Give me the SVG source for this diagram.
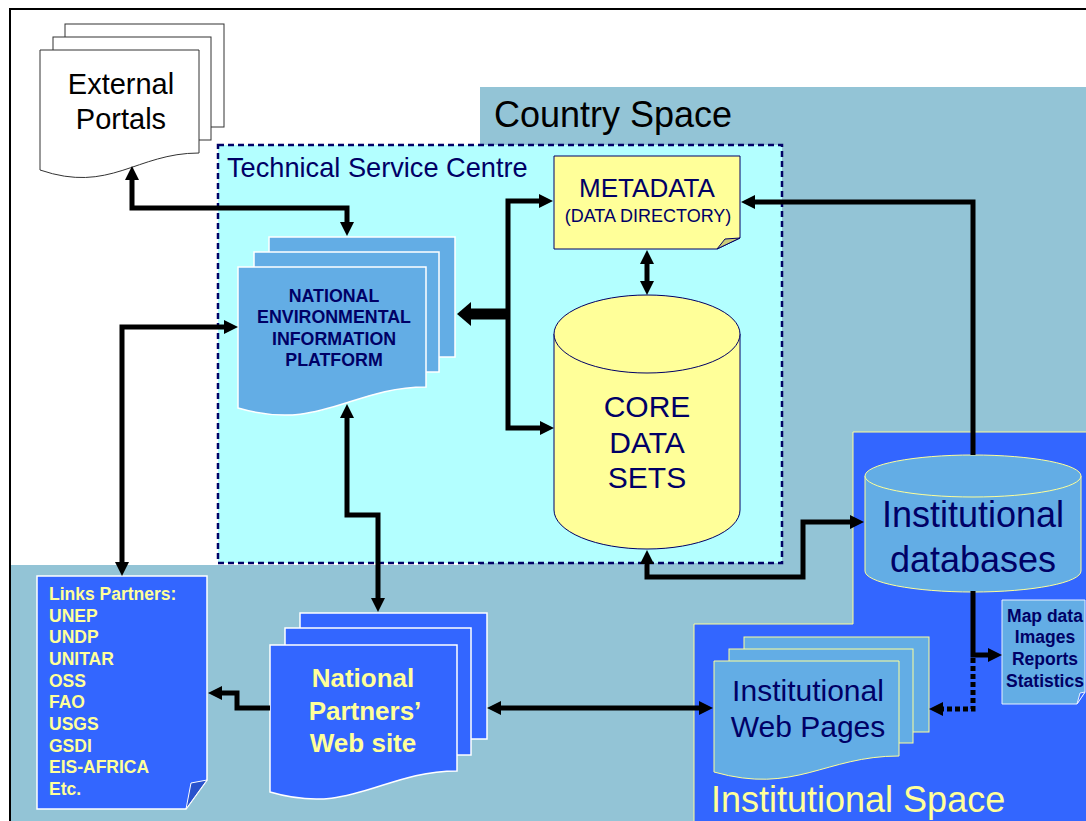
<svg xmlns="http://www.w3.org/2000/svg" width="1086" height="821" viewBox="0 0 1086 821">
<style>
text{font-family:"Liberation Sans",Arial,sans-serif}
.navy{fill:#000066}
.yel{fill:#FFFF99}
.b{font-weight:bold}
.mid{text-anchor:middle}
.conn{fill:none;stroke:#000;stroke-width:5;stroke-linejoin:miter}
.thick{stroke-width:11}
.page-w{fill:#fff;stroke:#333;stroke-width:1}
.page-lb{fill:#63ADE5;stroke:#fff;stroke-width:1.5}
.page-db{fill:#3366FF;stroke:#fff;stroke-width:1.5}
.page-iw{fill:#63ADE5;stroke:#FFFF99;stroke-width:1}
</style>
<defs>
<marker id="ah" markerUnits="userSpaceOnUse" viewBox="0 0 14 14" markerWidth="14" markerHeight="14" refX="3" refY="7" orient="auto-start-reverse"><path d="M0,0 L14,7 L0,14 z" fill="#000"/></marker>
<marker id="ahb" markerUnits="userSpaceOnUse" viewBox="0 0 14 24" markerWidth="14" markerHeight="24" refX="3" refY="12" orient="auto"><path d="M0,0 L14,12 L0,24 z" fill="#000"/></marker>
</defs>
<rect width="1086" height="821" fill="#fff"/>
<g id="country-space">
<path d="M480,87 H1086 V821 H10 V565 H480 Z" fill="#93C4D6"/>
<text x="494" y="127" font-size="36" fill="#000">Country Space</text>
</g>
<g id="institutional-space">
<path d="M853,432 H1090 V825 H694 V624 H853 Z" fill="#3366FF" stroke="#FFFF99" stroke-width="1"/>
<text x="711" y="812" font-size="36" class="yel">Institutional Space</text>
</g>
<g id="technical-service-centre">
<rect x="218" y="145" width="564" height="418" fill="#B3FFFF" stroke="#000066" stroke-width="2.5" stroke-dasharray="6,4"/>
<text x="227" y="177" font-size="27.2" class="navy">Technical Service Centre</text>
</g>
<rect x="10" y="9" width="1090" height="830" fill="none" stroke="#000" stroke-width="2"/>
<g id="external-portals">
<rect x="65" y="24" width="159" height="103" class="page-w"/>
<rect x="53" y="37" width="158" height="103" class="page-w"/>
<path d="M40,50 H199 V153 C136,153 110,194 40,170 Z" class="page-w"/>
<text x="121" y="94" font-size="29" class="mid">External</text>
<text x="121" y="129" font-size="29" class="mid">Portals</text>
</g>
<g id="neip">
<rect x="269" y="237" width="186" height="120" class="page-lb"/>
<rect x="254" y="252" width="185" height="120" class="page-lb"/>
<path d="M238,267 H426 V387 C351,387 321,432 238,408 Z" class="page-lb"/>
<text x="334" y="302" font-size="17.8" class="navy b mid">NATIONAL</text>
<text x="334" y="323" font-size="17.8" class="navy b mid">ENVIRONMENTAL</text>
<text x="334" y="345" font-size="17.8" class="navy b mid">INFORMATION</text>
<text x="334" y="366" font-size="17.8" class="navy b mid">PLATFORM</text>
</g>
<g id="metadata">
<path d="M554,156 H740 V238 L717,249 H554 Z" fill="#FFFF99" stroke="#000066" stroke-width="1"/>
<path d="M717,249 L725,239 L740,238 Z" fill="#CCCC77" stroke="#000066" stroke-width="1"/>
<text x="647" y="197" font-size="26" class="navy mid">METADATA</text>
<text x="648" y="222" font-size="18" class="navy mid">(DATA DIRECTORY)</text>
</g>
<g id="core-data-sets">
<path d="M554,334 V510 A93,39 0 0 0 740,510 V334 Z" fill="#FFFF99" stroke="#000066" stroke-width="1"/>
<ellipse cx="647" cy="334" rx="93" ry="39" fill="#FFFF99" stroke="#000066" stroke-width="1"/>
<text x="647" y="417" font-size="30" class="navy mid">CORE</text>
<text x="647" y="453" font-size="30" class="navy mid">DATA</text>
<text x="647" y="488" font-size="30" class="navy mid">SETS</text>
</g>
<g id="institutional-databases">
<path d="M865,476 V571 A108,21 0 0 0 1081,571 V476 Z" fill="#63ADE5" stroke="#FFFF99" stroke-width="1"/>
<ellipse cx="973" cy="476" rx="108" ry="21" fill="#63ADE5" stroke="#FFFF99" stroke-width="1"/>
<text x="973" y="527" font-size="36" class="navy mid">Institutional</text>
<text x="973" y="572" font-size="36" class="navy mid">databases</text>
</g>
<g id="map-data">
<path d="M1002,600 H1085 V692 L1077,704 H1002 Z" fill="#63ADE5" stroke="#E8F0FF" stroke-width="1"/>
<path d="M1077,704 L1080,693 L1085,692 Z" fill="#3366FF" stroke="#E8F0FF" stroke-width="1"/>
<text x="1045" y="622" font-size="17.5" class="navy b mid">Map data</text>
<text x="1045" y="643" font-size="17.5" class="navy b mid">Images</text>
<text x="1045" y="665" font-size="17.5" class="navy b mid">Reports</text>
<text x="1045" y="687" font-size="17.5" class="navy b mid">Statistics</text>
</g>
<g id="institutional-web-pages">
<rect x="744" y="637" width="185" height="95" class="page-iw"/>
<rect x="729" y="649" width="184" height="94" class="page-iw"/>
<path d="M714,661 H899 V756 C825,756 795,795 714,772 Z" class="page-iw"/>
<text x="808" y="701" font-size="30" class="navy mid">Institutional</text>
<text x="808" y="737" font-size="30" class="navy mid">Web Pages</text>
</g>
<g id="national-partners-web-site">
<rect x="300" y="613" width="187" height="126" class="page-db"/>
<rect x="285" y="628" width="186" height="127" class="page-db"/>
<path d="M270,645 H457 V771 C382,771 352,816 270,792 Z" class="page-db"/>
<text x="363" y="687" font-size="26" class="yel b mid">National</text>
<text x="365" y="720" font-size="26" class="yel b mid">Partners’</text>
<text x="363" y="752" font-size="26" class="yel b mid">Web site</text>
</g>
<g id="links-partners">
<path d="M37,576 H207 V780 L186,809 H37 Z" fill="#3366FF" stroke="#fff" stroke-width="1.5"/>
<path d="M186,809 L191,783 L207,780 Z" fill="#2952CC" stroke="#fff" stroke-width="1"/>
<g font-size="17.5" class="yel b">
<text x="49" y="600">Links Partners:</text>
<text x="49" y="622">UNEP</text>
<text x="49" y="643">UNDP</text>
<text x="49" y="665">UNITAR</text>
<text x="49" y="687">OSS</text>
<text x="49" y="708">FAO</text>
<text x="49" y="730">USGS</text>
<text x="49" y="752">GSDI</text>
<text x="49" y="773">EIS-AFRICA</text>
<text x="49" y="795">Etc.</text>
</g>
</g>
<g id="connectors">
<path class="conn" d="M132,177 V208 H347 V225" marker-start="url(#ah)" marker-end="url(#ah)"/>
<path class="conn" d="M227,327 H122 V565" marker-start="url(#ah)" marker-end="url(#ah)"/>
<path class="conn" d="M347,415 V515 H378 V601" marker-start="url(#ah)" marker-end="url(#ah)"/>
<path class="conn" d="M270,708 H237 V693 H219" marker-end="url(#ah)"/>
<path class="conn" d="M498,708 H702" marker-start="url(#ah)" marker-end="url(#ah)"/>
<path class="conn" d="M647,561 V577 H803 V522 H853" marker-start="url(#ah)" marker-end="url(#ah)"/>
<path class="conn" d="M973,455 V202 H752" marker-end="url(#ah)"/>
<path class="conn" d="M973,591 V655 H991" marker-end="url(#ah)"/>
<path class="conn" d="M973,658 V709 H940" stroke-dasharray="5,3" marker-end="url(#ah)"/>
<path class="conn" d="M647,261 V284" marker-start="url(#ah)" marker-end="url(#ah)"/>
<path class="conn" d="M542,201 H508 V428 H543" marker-start="url(#ah)" marker-end="url(#ah)"/>
<path class="conn thick" d="M508,314 H468" marker-end="url(#ahb)"/>
</g>
</svg>
